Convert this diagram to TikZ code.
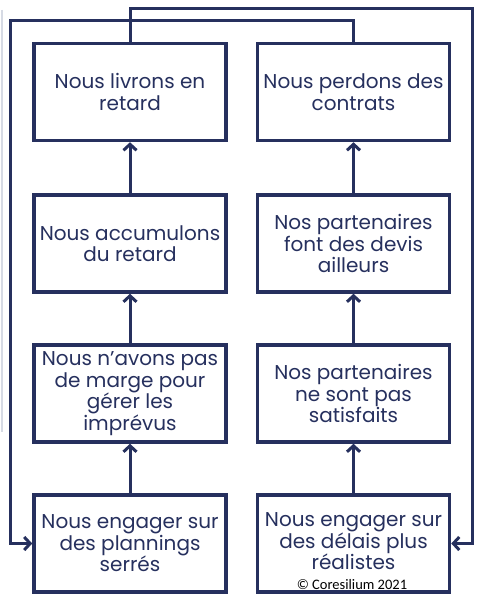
\documentclass[tikz,border=0pt]{standalone}
\usepackage{fontspec}
\setmainfont{Poppins}
\newfontfamily\copyfont{Carlito}
\usetikzlibrary{arrows.meta}
\definecolor{navy}{RGB}{38,48,94}
\tikzset{
  box/.style={draw=navy, line width=3.5pt, minimum width=192pt, minimum height=97pt,
    inner sep=0pt, align=center, text=navy,
    font=\fontsize{20}{21.5}\selectfont},
  conn/.style={draw=navy, line width=3pt, -{Straight Barb[length=6pt,width=13pt]}},
}
\begin{document}
\begin{tikzpicture}[x=1pt,y=1pt]
\useasboundingbox (0,0) rectangle (483,-602);
\fill[white] (0,0) rectangle (483,-602);
\draw[color={rgb,255:red,214;green,218;blue,228}, line width=1.5pt] (2,-10) -- (2,-432);
% left column
\node[box] (l1) at (130,-92) {Nous livrons en\\retard};
\node[box] (l2) at (130,-243.5) {Nous accumulons\\du retard};
\node[box] (l3) at (130,-393.5) {Nous n'avons pas\\de marge pour\\gérer les\\imprévus};
\node[box] (l4) at (130,-543.5) {Nous engager sur\\des plannings\\serrés};
% right column
\node[box] (r1) at (353.5,-92) {Nous perdons des\\contrats};
\node[box] (r2) at (353.5,-243.5) {Nos partenaires\\font des devis\\ailleurs};
\node[box] (r3) at (353.5,-393.5) {Nos partenaires\\ne sont pas\\satisfaits};
\node[box, text depth=4pt] (r4) at (353.5,-543.5) {Nous engager sur\\des délais plus\\réalistes};
\node[font=\copyfont\fontsize{14.5}{16}\selectfont, text=black, inner sep=0pt] (cp) at (352,-585) {© Coresilium 2021};
% vertical arrows
\draw[conn] (l4) -- (l3);
\draw[conn] (l3) -- (l2);
\draw[conn] (l2) -- (l1);
\draw[conn] (r4) -- (r3);
\draw[conn] (r3) -- (r2);
\draw[conn] (r2) -- (r1);
% feedback rails
\coordinate (tr) at (472,-9);
\coordinate (tl) at (10,-21);
\draw[conn] (l1.north) |- (tr) |- (r4.east);
\draw[conn] (r1.north) |- (tl) |- (l4.west);
\end{tikzpicture}
\end{document}
